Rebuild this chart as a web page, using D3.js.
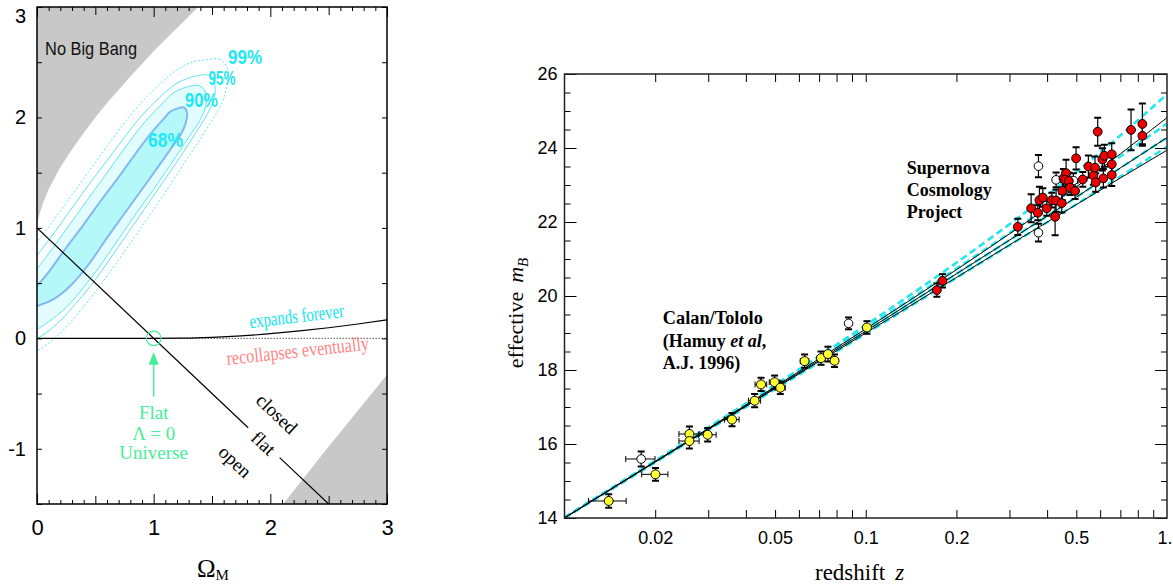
<!DOCTYPE html>
<html><head><meta charset="utf-8">
<script src="https://cdn.jsdelivr.net/npm/d3@7"></script>
<style>body{margin:0;background:#fff}svg{display:block}</style>
</head><body>
<svg id="c" width="1173" height="587"></svg>
<script>
// ---------------- DATA ----------------
// Left panel: Omega_M / Omega_Lambda plane
const noBigBangOm = [0, 0.005, 0.02, 0.05, 0.1, 0.2, 0.3, 0.4, 0.5, 0.6, 0.8, 1.0, 1.2, 1.4];
const noBigBangOl = [1, 1.05, 1.12, 1.22, 1.35, 1.55, 1.71, 1.86, 2.0, 2.13, 2.37, 2.60, 2.81, 3.02];
const lowerGrayOm = [2.11, 2.5, 3.0];
const lowerGrayOl = [-1.5, -0.98, -0.33];
const expandOm = [0, 1, 1.25, 1.5, 1.75, 2, 2.25, 2.5, 2.75, 3];
const expandOl = [0, 0, 0.0015, 0.0087, 0.022, 0.042, 0.067, 0.096, 0.130, 0.168];
const contour68 = [[1.20,2.08],[1.26,2.09],[1.285,2.05],[1.275,1.95],[1.23,1.84],[1.15,1.72],[1.05,1.57],[0.90,1.35],[0.75,1.13],[0.60,0.91],[0.45,0.68],[0.30,0.49],[0.15,0.36],[0.02,0.30],[-0.10,0.28],[-0.15,0.33],[-0.10,0.42],[0.00,0.48],[0.10,0.60],[0.25,0.82],[0.40,1.03],[0.55,1.25],[0.70,1.46],[0.85,1.68],[0.98,1.86],[1.08,1.98],[1.14,2.05]];
const contour90 = [[1.30,2.28],[1.38,2.29],[1.44,2.24],[1.45,2.12],[1.40,1.98],[1.30,1.82],[1.15,1.58],[1.00,1.35],[0.85,1.13],[0.70,0.90],[0.55,0.67],[0.40,0.46],[0.25,0.28],[0.10,0.15],[-0.05,0.06],[-0.20,0.05],[-0.25,0.2],[-0.15,0.45],[0.00,0.63],[0.15,0.84],[0.30,1.06],[0.45,1.28],[0.60,1.50],[0.75,1.72],[0.90,1.93],[1.05,2.10],[1.18,2.23]];
const contour95 = [[1.38,2.38],[1.47,2.38],[1.52,2.32],[1.52,2.18],[1.46,2.03],[1.36,1.86],[1.22,1.63],[1.07,1.40],[0.92,1.17],[0.77,0.94],[0.62,0.71],[0.47,0.49],[0.32,0.30],[0.17,0.13],[0.02,0.01],[-0.15,-0.05],[-0.30,0.2],[-0.15,0.55],[0.00,0.75],[0.15,0.96],[0.30,1.18],[0.45,1.40],[0.60,1.61],[0.75,1.82],[0.90,2.02],[1.05,2.18],[1.20,2.31]];
const contour99 = [[1.45,2.52],[1.56,2.53],[1.63,2.45],[1.63,2.30],[1.58,2.12],[1.48,1.94],[1.34,1.71],[1.19,1.47],[1.04,1.23],[0.89,1.00],[0.74,0.77],[0.59,0.55],[0.44,0.34],[0.29,0.15],[0.14,-0.01],[0.0,-0.115],[-0.2,-0.22],[-0.38,0.2],[-0.15,0.65],[0.0,0.87],[0.15,1.08],[0.30,1.30],[0.45,1.52],[0.60,1.74],[0.75,1.95],[0.90,2.14],[1.05,2.30],[1.20,2.43],[1.33,2.50]];
const leftXTicks = [0, 1, 2, 3];
const leftYTicks = [-1, 0, 1, 2, 3];

// Right panel: Hubble diagram
const modelZ = [0.01, 0.02, 0.05, 0.1, 0.2, 0.3, 0.5, 0.7, 1.0];
const solid00 = [14.01, 15.53, 17.55, 19.11, 20.71, 21.68, 22.95, 23.84, 24.82];
const solid10 = [14.00, 15.52, 17.52, 19.05, 20.60, 21.51, 22.67, 23.46, 24.28];
const solid20 = [14.00, 15.51, 17.50, 19.00, 20.50, 21.38, 22.47, 23.19, 23.94];
const dash01 = [14.02, 15.55, 17.60, 19.21, 20.90, 21.94, 23.35, 24.34, 25.45];
const dash55 = [14.01, 15.53, 17.56, 19.13, 20.74, 21.70, 22.94, 23.77, 24.66];
const dash10 = [14.00, 15.52, 17.52, 19.05, 20.60, 21.51, 22.67, 23.46, 24.28];
const dash1505 = [14.00, 15.50, 17.48, 18.98, 20.49, 21.37, 22.48, 23.23, 24.03];

const ctZ = [0.01402, 0.02004, 0.02598, 0.02598, 0.02987, 0.03598, 0.04278, 0.04491, 0.04983, 0.05204, 0.06266, 0.07102, 0.07489, 0.07878, 0.1009];
const ctM = [14.46, 15.18, 16.27, 16.08, 16.25, 16.66, 17.17, 17.61, 17.67, 17.52, 18.24, 18.32, 18.43, 18.25, 19.15];
const ctErr = [0.18, 0.17, 0.2, 0.2, 0.18, 0.18, 0.18, 0.18, 0.18, 0.17, 0.18, 0.18, 0.2, 0.17, 0.17];
const ctOpenZ = [0.01797, 0.08769];
const ctOpenM = [15.595, 19.26];
const ctOpenErr = [0.2, 0.16];
const ctZErr = 0.002;

const scpZ = [0.1722, 0.1798, 0.3198, 0.354, 0.3725, 0.3771, 0.387, 0.399, 0.4146, 0.4252, 0.4284, 0.4474, 0.4496, 0.4531, 0.4624, 0.4589, 0.472, 0.4767, 0.4953, 0.4991, 0.5253, 0.5483, 0.5694, 0.5768, 0.5798, 0.5888, 0.6101, 0.6148, 0.6195, 0.6555, 0.6555, 0.6555, 0.7597, 0.8284, 0.8284];
const scpM = [20.16, 20.41, 21.87, 22.37, 22.25, 22.59, 22.66, 22.37, 22.59, 22.14, 22.58, 22.51, 22.84, 23.18, 23.32, 23.14, 23.11, 22.93, 22.84, 23.72, 23.15, 23.50, 23.26, 23.47, 23.07, 24.44, 23.69, 23.18, 23.79, 23.83, 23.56, 23.27, 24.49, 24.65, 24.33];
const scpErr = [0.18, 0.18, 0.22, 0.38, 0.2, 0.36, 0.25, 0.2, 0.2, 0.5, 0.3, 0.25, 0.25, 0.25, 0.36, 0.25, 0.22, 0.2, 0.22, 0.3, 0.2, 0.3, 0.25, 0.3, 0.25, 0.38, 0.3, 0.25, 0.3, 0.3, 0.3, 0.3, 0.55, 0.55, 0.27];
const scpOpenZ = [0.3744, 0.3744, 0.4284, 0.4889];
const scpOpenM = [23.51, 21.71, 23.14, 23.12];
const scpOpenErr = [0.3, 0.24, 0.2, 0.2];

const rightXTicks = [0.02, 0.05, 0.1, 0.2, 0.5, 1];
const rightXLabels = ["0.02", "0.05", "0.1", "0.2", "0.5", "1."];
const rightYTicks = [14, 16, 18, 20, 22, 24, 26];

// ---------------- DRAW ----------------
const SANS = '"Liberation Sans", Arial, Helvetica, sans-serif';
const SERIF = '"Liberation Serif", "Times New Roman", serif';
const svg = d3.select('#c');
const defs = svg.append('defs');

// ===== LEFT PANEL =====
const xL = d3.scaleLinear().domain([0, 3]).range([37, 387]);
const yL = d3.scaleLinear().domain([-1.5, 3]).range([504, 7]);
defs.append('clipPath').attr('id', 'clipL').append('rect')
  .attr('x', 37).attr('y', 7).attr('width', 350).attr('height', 497);
const lineL = d3.line().x(d => xL(d[0])).y(d => yL(d[1]));
const closedL = d3.line().x(d => xL(d[0])).y(d => yL(d[1])).curve(d3.curveCatmullRomClosed.alpha(0.5));
const gL = svg.append('g').attr('clip-path', 'url(#clipL)');

// gray regions
const nbb = noBigBangOm.map((m, i) => [m, noBigBangOl[i]]);
gL.append('path').attr('d', lineL([...nbb, [1.45, 3.2], [-0.1, 3.2], [-0.1, 1]]) + 'Z')
  .attr('fill', '#c8c8c8');
const lg = lowerGrayOm.map((m, i) => [m, lowerGrayOl[i]]);
gL.append('path').attr('d', lineL([[2.05, -1.6], ...lg, [3.05, -0.25], [3.1, -1.6]]) + 'Z')
  .attr('fill', '#c8c8c8');

// contours
gL.append('path').attr('d', closedL(contour90)).attr('fill', '#e3fcfd').attr('stroke', 'none');
gL.append('path').attr('d', closedL(contour68)).attr('fill', '#b4f8fa').attr('stroke', 'none');
gL.append('path').attr('d', closedL(contour99)).attr('fill', 'none').attr('stroke', '#5ee6f5').attr('stroke-width', 1).attr('stroke-dasharray', '2,2');
gL.append('path').attr('d', closedL(contour95)).attr('fill', 'none').attr('stroke', '#5ee6f5').attr('stroke-width', 1);
gL.append('path').attr('d', closedL(contour90)).attr('fill', 'none').attr('stroke', '#5ee6f5').attr('stroke-width', 1);
gL.append('path').attr('d', closedL(contour68)).attr('fill', 'none').attr('stroke', '#86b8f0').attr('stroke-width', 2);

// lines
gL.append('path').attr('d', lineL([[1, 0], [3, 0]])).attr('stroke', '#000').attr('stroke-width', 1).attr('stroke-dasharray', '1,2').attr('fill', 'none');
const exp = expandOm.map((m, i) => [m, expandOl[i]]);
gL.append('path').attr('d', d3.line().x(d => xL(d[0])).y(d => yL(d[1])).curve(d3.curveMonotoneX)(exp))
  .attr('stroke', '#000').attr('stroke-width', 1.2).attr('fill', 'none');
gL.append('path').attr('d', lineL([[0, 1], [1.81, -0.81]])).attr('stroke', '#000').attr('stroke-width', 1.2).attr('fill', 'none');
gL.append('path').attr('d', lineL([[2.08, -1.08], [2.5, -1.5]])).attr('stroke', '#000').attr('stroke-width', 1.2).attr('fill', 'none');

// green circle + arrow
const GREEN = '#44ee99';
gL.append('circle').attr('cx', xL(1)).attr('cy', yL(0)).attr('r', 7.3).attr('fill', 'none').attr('stroke', GREEN).attr('stroke-width', 1.2);
gL.append('line').attr('x1', xL(1)).attr('x2', xL(1)).attr('y1', yL(-0.53)).attr('y2', yL(-0.2))
  .attr('stroke', GREEN).attr('stroke-width', 1.5);
gL.append('path').attr('d', `M${xL(1)},${yL(-0.124)} L${xL(1) - 5},${yL(-0.24)} L${xL(1) + 5},${yL(-0.24)} Z`).attr('fill', GREEN);

// left texts
svg.append('text').attr('x', xL(0.069)).attr('y', yL(2.565)).text('No Big Bang')
  .attr('font-family', SANS).attr('font-size', 19).attr('textLength', 92).attr('lengthAdjust', 'spacingAndGlyphs').attr('fill', '#111');
const cLabels = [['68%', 1.101, 1.800, 35], ['90%', 1.41, 2.16, 33], ['95%', 1.586, 2.357, 27], ['99%', 1.783, 2.547, 34]];
cLabels.forEach(l => {
  svg.append('text').attr('x', xL(l[1])).attr('y', yL(l[2])).attr('text-anchor', 'middle').attr('dy', '0.36em')
    .attr('font-family', SANS).attr('font-weight', 'bold').attr('font-size', 20).attr('fill', '#1ee8f2')
    .attr('textLength', l[3]).attr('lengthAdjust', 'spacingAndGlyphs').text(l[0]);
});
svg.append('text').attr('transform', `translate(${xL(2.226)},${yL(0.202)}) rotate(-6.7)`).attr('text-anchor', 'middle').attr('dy', '0.33em')
  .attr('font-family', SERIF).attr('font-size', 20).attr('fill', '#12e4f0').attr('textLength', 95).attr('lengthAdjust', 'spacingAndGlyphs').text('expands forever');
svg.append('text').attr('transform', `translate(${xL(2.234)},${yL(-0.112)}) rotate(-6.2)`).attr('text-anchor', 'middle').attr('dy', '0.33em')
  .attr('font-family', SERIF).attr('font-size', 20).attr('fill', '#ff8585').attr('textLength', 143).attr('lengthAdjust', 'spacingAndGlyphs').text('recollapses eventually');
const ang = Math.atan2(yL(-1) - yL(0), xL(1) - xL(0)) * 180 / Math.PI;
[['closed', 2.054, -0.685], ['flat', 1.94, -0.951], ['open', 1.697, -1.117]].forEach(l => {
  svg.append('text').attr('transform', `translate(${xL(l[1])},${yL(l[2])}) rotate(${ang})`).attr('text-anchor', 'middle').attr('dy', '0.33em')
    .attr('font-family', SERIF).attr('font-size', 19).attr('fill', '#000').text(l[0]);
});
[['Flat', -0.731], ['Λ = 0', -0.921], ['Universe', -1.093]].forEach(l => {
  svg.append('text').attr('x', xL(1)).attr('y', yL(l[1])).attr('text-anchor', 'middle')
    .attr('font-family', SERIF).attr('font-size', 19).attr('fill', GREEN).text(l[0]);
});

// left axes
function clean(g) { g.select('.domain').remove(); g.selectAll('line').attr('stroke', '#000').attr('stroke-width', 1); return g; }
const tenths = d3.range(0, 31).map(i => i / 10);
const halfStepsX = d3.range(0, 7).map(i => i / 2);
const minorX = tenths.filter(v => Math.abs(v * 2 - Math.round(v * 2)) > 1e-6);
const halfOnly = halfStepsX.filter(v => v % 1 !== 0);
const ints = [0, 1, 2, 3];
[[minorX, 4], [halfOnly, 8], [ints, 10]].forEach(([vals, len]) => {
  clean(svg.append('g').attr('transform', 'translate(0,504)').call(d3.axisBottom(xL).tickValues(vals).tickSize(-len).tickFormat('')));
  clean(svg.append('g').attr('transform', 'translate(0,7)').call(d3.axisTop(xL).tickValues(vals).tickSize(-len).tickFormat('')));
});
const halfY = d3.range(-3, 7).map(i => i / 2);
clean(svg.append('g').attr('transform', 'translate(37,0)').call(d3.axisLeft(yL).tickValues(halfY).tickSize(-5).tickFormat('')));
clean(svg.append('g').attr('transform', 'translate(387,0)').call(d3.axisRight(yL).tickValues(halfY).tickSize(-5).tickFormat('')));
const lxl = clean(svg.append('g').attr('transform', 'translate(0,504)').call(d3.axisBottom(xL).tickValues(leftXTicks).tickSize(0).tickPadding(15).tickFormat(d => String(d))));
lxl.selectAll('text').attr('font-family', SANS).attr('font-size', 22).attr('fill', '#000');
const lyl = clean(svg.append('g').attr('transform', 'translate(37,0)').call(d3.axisLeft(yL).tickValues(leftYTicks).tickSize(0).tickPadding(11).tickFormat(d => String(d))));
lyl.selectAll('text').attr('font-family', SANS).attr('font-size', 20).attr('fill', '#000');
lyl.selectAll('.tick').filter(d => d === 3).select('text').attr('y', 9);
svg.append('rect').attr('x', 37).attr('y', 7).attr('width', 350).attr('height', 497)
  .attr('fill', 'none').attr('stroke', '#000').attr('stroke-width', 1.5);
svg.append('text').attr('x', 197).attr('y', 577).attr('font-family', SERIF).attr('font-size', 25).attr('fill', '#000')
  .text('Ω').append('tspan').attr('font-size', 15).attr('dy', 3).text('M');

// ===== RIGHT PANEL =====
const xR = d3.scaleLog().domain([0.01, 1]).range([564.5, 1167]);
const yR = d3.scaleLinear().domain([14, 26]).range([518, 74]);
defs.append('clipPath').attr('id', 'clipR').append('rect')
  .attr('x', 564.5).attr('y', 74).attr('width', 602.5).attr('height', 444);
const gR = svg.append('g').attr('clip-path', 'url(#clipR)');
const lineR = d3.line().x(d => xR(d[0])).y(d => yR(d[1])).curve(d3.curveMonotoneX);
const CYAN = '#22e6ee';
[dash01, dash55, dash10, dash1505].forEach(arr => {
  gR.append('path').attr('d', lineR(modelZ.map((z, i) => [z, arr[i]])))
    .attr('fill', 'none').attr('stroke', CYAN).attr('stroke-width', 2.6).attr('stroke-dasharray', '7,4');
});
[solid00, solid10, solid20].forEach(arr => {
  gR.append('path').attr('d', lineR(modelZ.map((z, i) => [z, arr[i]])))
    .attr('fill', 'none').attr('stroke', '#000').attr('stroke-width', 1);
});

function errBars(zs, ms, es, dz) {
  zs.forEach((z, i) => {
    const cx = xR(z), y1 = yR(ms[i] + es[i]), y2 = yR(ms[i] - es[i]);
    gR.append('line').attr('x1', cx).attr('x2', cx).attr('y1', y1).attr('y2', y2).attr('stroke', '#000').attr('stroke-width', 1.2);
    [y1, y2].forEach(yy => gR.append('line').attr('x1', cx - 3.5).attr('x2', cx + 3.5).attr('y1', yy).attr('y2', yy).attr('stroke', '#000').attr('stroke-width', 2));
    if (dz) {
      const xa = xR(z - dz), xb = xR(z + dz), cy = yR(ms[i]);
      gR.append('line').attr('x1', xa).attr('x2', xb).attr('y1', cy).attr('y2', cy).attr('stroke', '#000').attr('stroke-width', 1);
      [xa, xb].forEach(xx => gR.append('line').attr('x1', xx).attr('x2', xx).attr('y1', cy - 3).attr('y2', cy + 3).attr('stroke', '#000').attr('stroke-width', 1));
    }
  });
}
function dots(zs, ms, fill, r) {
  zs.forEach((z, i) => gR.append('circle').attr('cx', xR(z)).attr('cy', yR(ms[i])).attr('r', r)
    .attr('fill', fill).attr('stroke', '#000').attr('stroke-width', 1));
}
errBars(ctZ, ctM, ctErr, ctZErr);
errBars(ctOpenZ, ctOpenM, ctOpenErr, ctZErr);
errBars(scpZ, scpM, scpErr, 0);
errBars(scpOpenZ, scpOpenM, scpOpenErr, 0);
dots(ctOpenZ, ctOpenM, '#fff', 4.3);
dots(ctZ, ctM, '#ffff33', 4.5);
dots(scpOpenZ, scpOpenM, '#fff', 4.3);
dots(scpZ, scpM, '#ee0000', 4.4);

// right axes
const minorZ = d3.range(2, 10).map(i => i / 100).concat(d3.range(1, 10).map(i => i / 10));
clean(svg.append('g').attr('transform', 'translate(0,518)').call(d3.axisBottom(xR).tickValues(minorZ).tickSize(-8).tickFormat('')));
clean(svg.append('g').attr('transform', 'translate(0,74)').call(d3.axisTop(xR).tickValues(minorZ).tickSize(-8).tickFormat('')));
const halfM = d3.range(28, 53).map(i => i / 2).filter(v => v % 2 !== 0);
[[564.5, d3.axisLeft], [1167, d3.axisRight]].forEach(([x0, ax]) => {
  clean(svg.append('g').attr('transform', `translate(${x0},0)`).call(ax(yR).tickValues(halfM).tickSize(-6).tickFormat('')));
  clean(svg.append('g').attr('transform', `translate(${x0},0)`).call(ax(yR).tickValues(rightYTicks).tickSize(-12).tickFormat('')));
});
const rxl = clean(svg.append('g').attr('transform', 'translate(0,518)').call(d3.axisBottom(xR).tickValues(rightXTicks).tickSize(0).tickPadding(13).tickFormat((d, i) => rightXLabels[i])));
rxl.selectAll('text').attr('font-family', SANS).attr('font-size', 18).attr('fill', '#000');
rxl.selectAll('.tick').filter(d => d === 1).select('text').attr('text-anchor', 'end').attr('x', 5);
const ryl = clean(svg.append('g').attr('transform', 'translate(564.5,0)').call(d3.axisLeft(yR).tickValues(rightYTicks).tickSize(0).tickPadding(7).tickFormat(d => String(d))));
ryl.selectAll('text').attr('font-family', SANS).attr('font-size', 18).attr('fill', '#000');
svg.append('rect').attr('x', 564.5).attr('y', 74).attr('width', 602.5).attr('height', 444)
  .attr('fill', 'none').attr('stroke', '#222').attr('stroke-width', 1.5);

// right texts
const yt = svg.append('text').attr('transform', 'translate(523,313) rotate(-90)').attr('text-anchor', 'middle')
  .attr('font-family', SERIF).attr('font-size', 22).attr('fill', '#000');
yt.append('tspan').text('effective');
yt.append('tspan').attr('dx', 9).attr('font-style', 'italic').text('m');
yt.append('tspan').attr('font-style', 'italic').attr('font-size', 15).attr('dy', 5).text('B');
const xt = svg.append('text').attr('x', 815).attr('y', 580).attr('font-family', SERIF).attr('font-size', 23).attr('fill', '#000');
xt.append('tspan').text('redshift');
xt.append('tspan').attr('dx', 10).attr('font-style', 'italic').text('z');

function boldLines(z, ms, lines, lens) {
  lines.forEach((ln, i) => {
    const t = svg.append('text').attr('x', xR(z)).attr('y', yR(ms[i])).attr('font-family', SERIF)
      .attr('font-weight', 'bold').attr('font-size', 18).attr('fill', '#000');
    if (lens && lens[i]) t.attr('textLength', lens[i]).attr('lengthAdjust', 'spacingAndGlyphs');
    ln.forEach(seg => t.append('tspan').attr('font-style', seg[1] ? 'italic' : 'normal').text(seg[0]));
  });
}
boldLines(0.0212, [19.24, 18.62, 18.03], [[['Calan/Tololo']], [['(Hamuy '], ['et al', 1], [',']], [['A.J. 1996)']]], [100, 0, 0]);
boldLines(0.1368, [23.30, 22.70, 22.11], [[['Supernova']], [['Cosmology']], [['Project']]]);
</script>
</body></html>
